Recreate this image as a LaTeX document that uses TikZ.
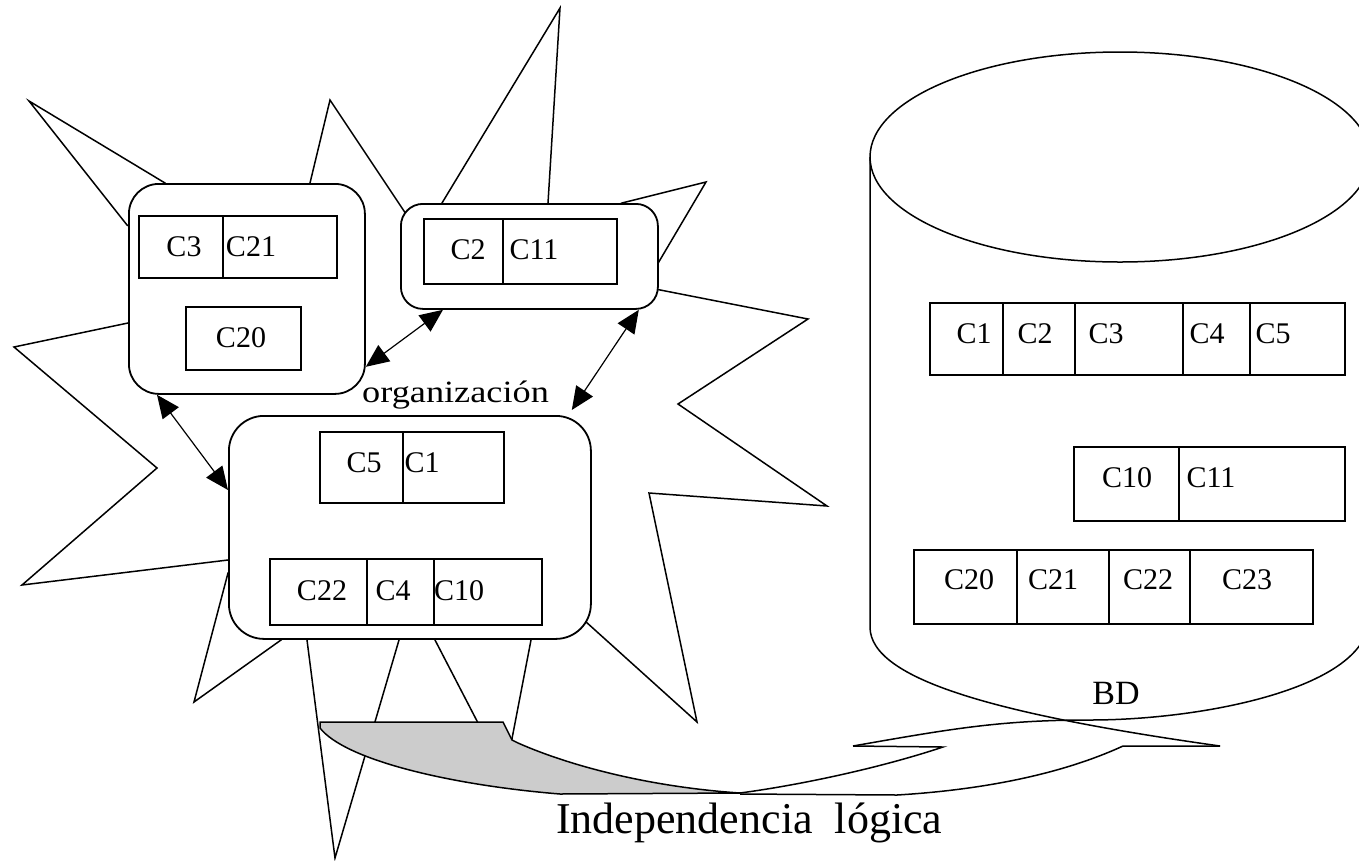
\documentclass[tikz,border=0pt]{standalone}
\usepackage{fontspec}
\setmainfont{Liberation Serif}
\newfontfamily\widefont[FakeStretch=1.17]{Liberation Serif}
\usetikzlibrary{arrows.meta}
\definecolor{bandgray}{RGB}{204,204,204}
\tikzset{
  box/.style={draw, fill=white, line width=1.8pt, inner sep=0pt, anchor=north west},
  cell/.style={draw, line width=1.6pt, inner sep=0pt, anchor=north west},
  lbl/.style={inner sep=0pt, font=\fontsize{30}{36}\selectfont},
  edge/.style={line width=1.5pt, line join=miter},
  link/.style={line width=1.2pt, {Triangle[length=23pt,width=20pt]}-{Triangle[length=23pt,width=20pt]}},
}
\begin{document}
\begin{tikzpicture}[x=1pt,y=-1pt]
\path[use as bounding box] (0,0) rectangle (1359,860);
\clip (0,0) rectangle (1359,860);

% burst outline behind the three external views
\draw[edge] (127,225) -- (29,101) -- (165,183) -- (246,288) -- (310,183) -- (330,100)
  -- (410,220) -- (528,255) -- (442,203) -- (560,8) -- (548,203) -- (528,255)
  -- (622,203) -- (706,182) -- (657,265) -- (528,255) -- (645,287) -- (808,319)
  -- (678,404) -- (827,506) -- (649,493) -- (697,722) -- (575,612) -- (409,526)
  -- (531,640) -- (505,775) -- (435,640) -- (409,526) -- (399,640) -- (335,858)
  -- (307,640) -- (409,526) -- (281,640) -- (194,702) -- (228,573) -- (409,526)
  -- (228,560) -- (22,585) -- (157,468) -- (14,347) -- (128,323) -- (246,288) -- cycle;

% external views
\node[box, rounded corners=30pt, minimum width=236pt, minimum height=210pt] (A) at (128,183) {};
\node[box, rounded corners=22pt, minimum width=257pt, minimum height=105pt] (B) at (400,203) {};
\node[box, rounded corners=35pt, minimum width=362pt, minimum height=223pt] (C) at (228,415) {};

% records of view A
\node[cell, minimum width=84pt, minimum height=62pt] (a1) at (138,215) {};
\node[cell, minimum width=114pt, minimum height=62pt] (a2) at (222,215) {};
\node[cell, minimum width=115pt, minimum height=63pt] (a3) at (185,306) {};
\node[lbl] (la1) at (184,247) {C3};
\node[lbl] (la2) at (251,247) {C21};
\node[lbl] (la3) at (241,338) {C20};

% records of view B
\node[cell, minimum width=79pt, minimum height=65pt] (b1) at (423,218) {};
\node[cell, minimum width=114pt, minimum height=65pt] (b2) at (502,218) {};
\node[lbl] (lb1) at (468,250) {C2};
\node[lbl] (lb2) at (534,250) {C11};

% records of view C
\node[cell, minimum width=83pt, minimum height=71pt] (c1) at (319,431) {};
\node[cell, minimum width=101pt, minimum height=71pt] (c2) at (402,431) {};
\node[cell, minimum width=97pt, minimum height=66pt] (c3) at (269,558) {};
\node[cell, minimum width=67pt, minimum height=66pt] (c4) at (366,558) {};
\node[cell, minimum width=108pt, minimum height=66pt] (c5) at (433,558) {};
\node[lbl] (lc1) at (364,463) {C5};
\node[lbl] (lc2) at (422,463) {C1};
\node[lbl] (lc3) at (322,591) {C22};
\node[lbl] (lc4) at (393,591) {C4};
\node[lbl] (lc5) at (459,591) {C10};

% links between the views
\draw[link] ([yshift=28pt]A.south east) -- ([xshift=43pt]B.south west);
\draw[link] ([xshift=-20pt]B.south east) -- ([xshift=-20pt,yshift=5pt]C.north east);
\draw[link] ([xshift=29pt]A.south west) -- ([yshift=-75pt]C.north west);

\node[anchor=base west, inner sep=0pt, font=\widefont\fontsize{31}{36}\selectfont] (org) at (362,402) {organización};

% database cylinder
\draw[edge] (1120,157) ellipse [x radius=250, y radius=105];
\draw[edge] (870,157) -- (870,627) .. controls (870,680) and (1000,715) .. (1220,746);
\draw[edge] (853,746) .. controls (950,729) and (1000,720) .. (1090,720)
  .. controls (1200,720) and (1355,690) .. (1368,627);

% stored records
\node[cell, minimum width=73pt, minimum height=72pt] (d1) at (929,302) {};
\node[cell, minimum width=72pt, minimum height=72pt] (d2) at (1002,302) {};
\node[cell, minimum width=108pt, minimum height=72pt] (d3) at (1074,302) {};
\node[cell, minimum width=67pt, minimum height=72pt] (d4) at (1182,302) {};
\node[cell, minimum width=95pt, minimum height=72pt] (d5) at (1249,302) {};
\node[lbl] (ld1) at (974,334) {C1};
\node[lbl] (ld2) at (1035,334) {C2};
\node[lbl] (ld3) at (1106,334) {C3};
\node[lbl] (ld4) at (1207,334) {C4};
\node[lbl] (ld5) at (1273,334) {C5};

\node[cell, minimum width=105pt, minimum height=74pt] (e1) at (1073,446) {};
\node[cell, minimum width=166pt, minimum height=74pt] (e2) at (1178,446) {};
\node[lbl] (le1) at (1127,478) {C10};
\node[lbl] (le2) at (1211,478) {C11};

\node[cell, minimum width=103pt, minimum height=74pt] (f1) at (913,549) {};
\node[cell, minimum width=92pt, minimum height=74pt] (f2) at (1016,549) {};
\node[cell, minimum width=81pt, minimum height=74pt] (f3) at (1108,549) {};
\node[cell, minimum width=123pt, minimum height=74pt] (f4) at (1189,549) {};
\node[lbl] (lf1) at (969,580) {C20};
\node[lbl] (lf2) at (1053,580) {C21};
\node[lbl] (lf3) at (1148,580) {C22};
\node[lbl] (lf4) at (1247,580) {C23};

\node[inner sep=0pt, font=\fontsize{34}{40}\selectfont] (bd) at (1116,693) {BD};

% curved band: shaded underside, then the white upper face with its head
\filldraw[fill=bandgray, edge] (320,722) -- (503,722) -- (512,740) -- (518,743)
  .. controls (570,766) and (650,787) .. (740,793) -- (560,794)
  .. controls (450,785) and (345,760) .. (320,728) -- cycle;
\draw[edge] (740,794) -- (897,795) .. controls (980,790) and (1060,775) .. (1123,746) -- (1220,746);
\draw[edge] (740,793) .. controls (800,785) and (880,768) .. (943,747) -- (853,746);

\node[anchor=base west, inner sep=0pt, font=\fontsize{44}{50}\selectfont] (indep) at (556,833) {Independencia\ \ lógica};
\end{tikzpicture}
\end{document}
